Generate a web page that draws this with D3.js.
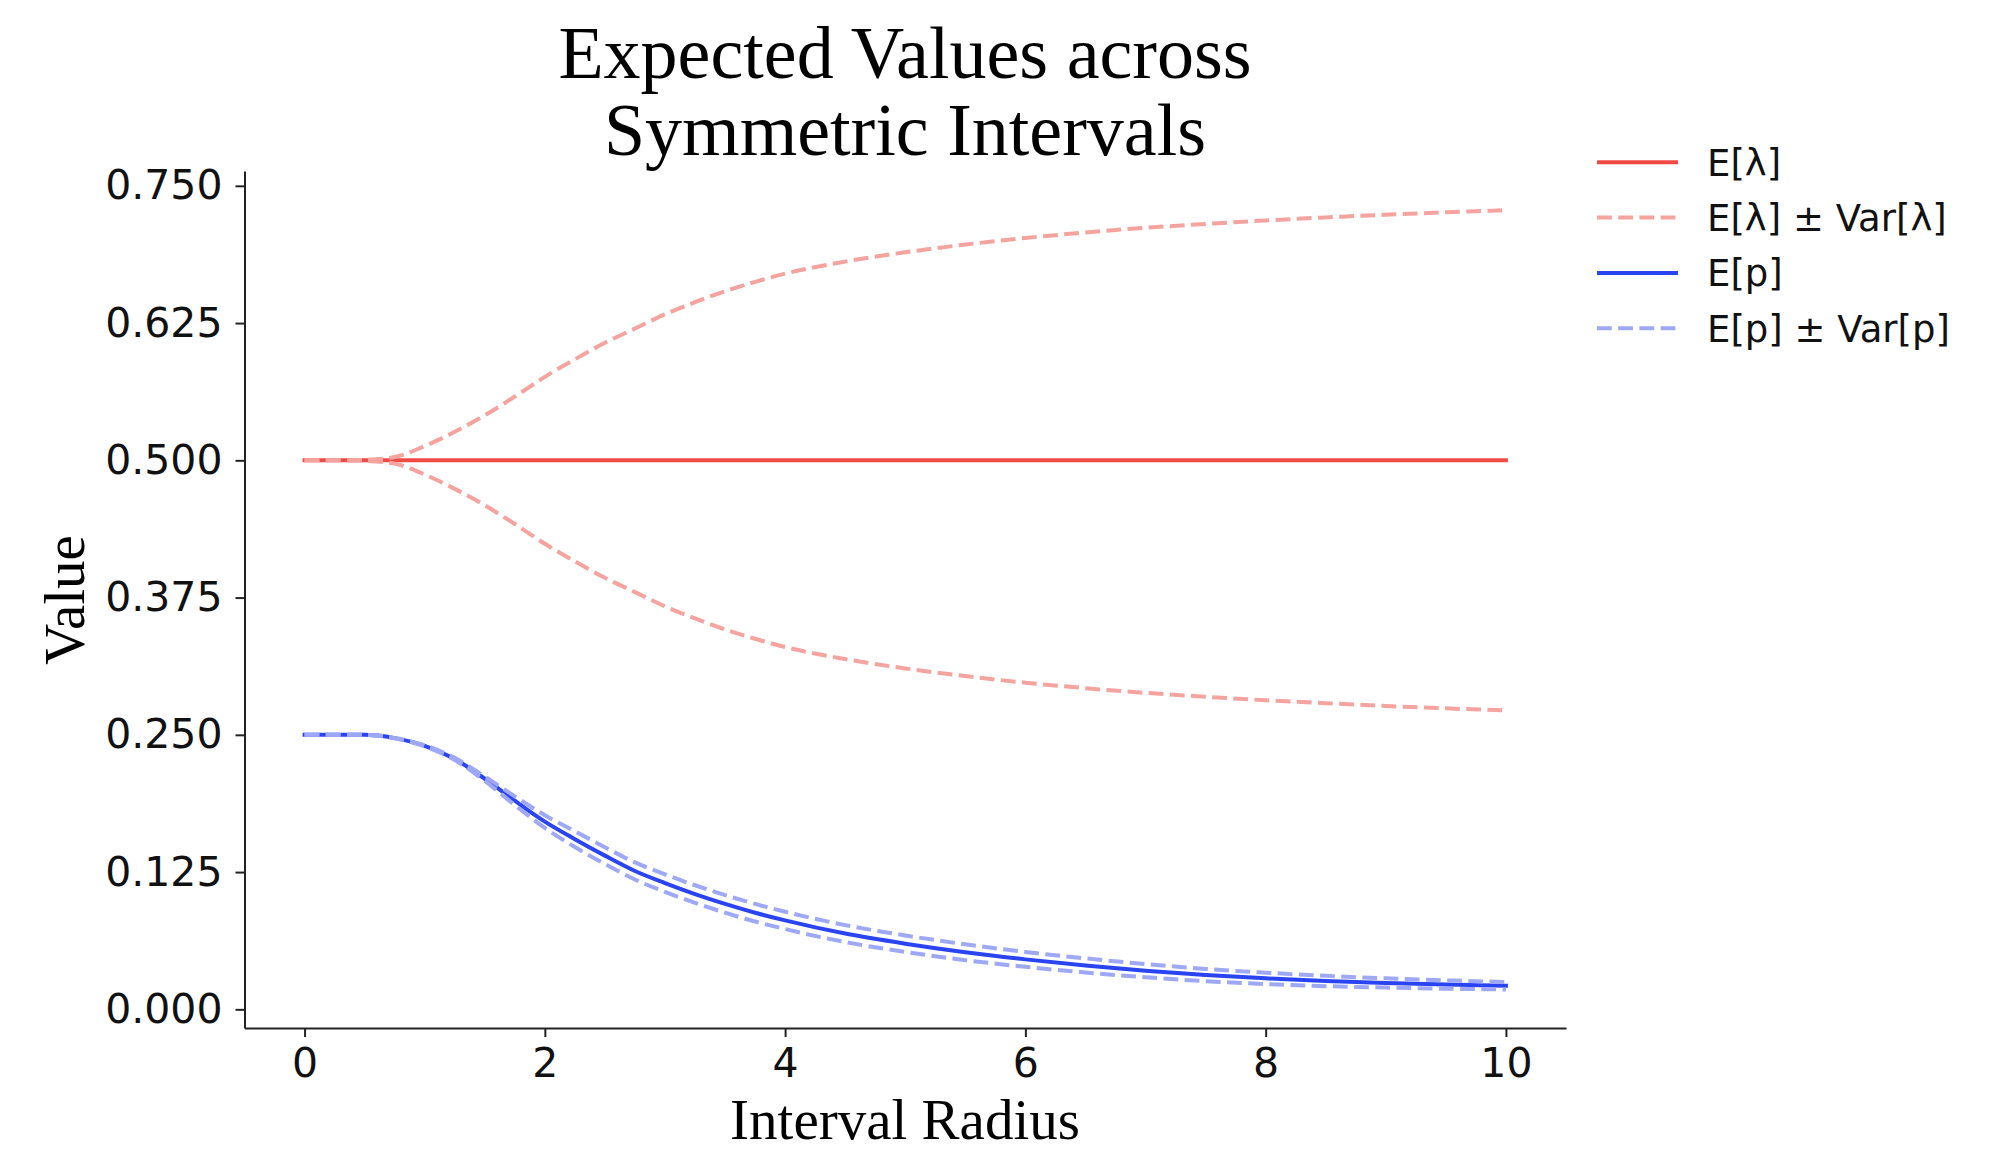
<!DOCTYPE html>
<html>
<head>
<meta charset="utf-8">
<script src="https://cdnjs.cloudflare.com/ajax/libs/d3/7.8.5/d3.min.js"></script>
<style>
  body { margin: 0; background: #fff; }
</style>
</head>
<body>
<svg id="chart" width="2000" height="1174"></svg>
<script>
//Values
var radius = [0, 0.25, 0.5, 0.75, 1, 1.25, 1.5, 1.75, 2, 2.25, 2.5, 2.75, 3, 3.25, 3.5, 3.75, 4, 4.5, 5, 5.5, 6, 6.5, 7, 7.5, 8, 8.5, 9, 9.5, 10];

var lambdaMean = [0.5, 0.5, 0.5, 0.5, 0.5, 0.5, 0.5, 0.5, 0.5, 0.5, 0.5, 0.5, 0.5, 0.5, 0.5, 0.5, 0.5, 0.5, 0.5, 0.5, 0.5, 0.5, 0.5, 0.5, 0.5, 0.5, 0.5, 0.5, 0.5];
var lambdaHi = [0.500, 0.500, 0.5005, 0.503, 0.513, 0.526, 0.541, 0.558, 0.576, 0.592, 0.607, 0.620, 0.633, 0.644, 0.654, 0.6625, 0.670, 0.681, 0.6895, 0.6965, 0.7025, 0.7075, 0.7118, 0.7153, 0.7185, 0.7212, 0.7237, 0.7259, 0.7278];
var lambdaLo = [0.500, 0.500, 0.4995, 0.497, 0.487, 0.474, 0.459, 0.442, 0.424, 0.408, 0.393, 0.380, 0.367, 0.356, 0.346, 0.3375, 0.330, 0.319, 0.3105, 0.3035, 0.2975, 0.2925, 0.2882, 0.2847, 0.2815, 0.2788, 0.2763, 0.2741, 0.2722];

var pMean = [0.250, 0.250, 0.250, 0.247, 0.240, 0.228, 0.210, 0.190, 0.171, 0.155, 0.140, 0.126, 0.115, 0.105, 0.096, 0.088, 0.081, 0.069, 0.0598, 0.0520, 0.0455, 0.0400, 0.0352, 0.0312, 0.0282, 0.0258, 0.0240, 0.0226, 0.0215];
var pHi = [0.250, 0.250, 0.250, 0.2472, 0.2405, 0.229, 0.212, 0.194, 0.1768, 0.1622, 0.1476, 0.1338, 0.123, 0.113, 0.104, 0.096, 0.0889, 0.0767, 0.0673, 0.0592, 0.0523, 0.0464, 0.0412, 0.0368, 0.0334, 0.0305, 0.0282, 0.0264, 0.0249];
var pLo = [0.250, 0.250, 0.250, 0.2468, 0.2395, 0.227, 0.208, 0.186, 0.1652, 0.1478, 0.1324, 0.1182, 0.107, 0.097, 0.088, 0.080, 0.0731, 0.0613, 0.0523, 0.0448, 0.0387, 0.0336, 0.0292, 0.0256, 0.0230, 0.0211, 0.0198, 0.0188, 0.0181];

var xTicks = [0, 2, 4, 6, 8, 10];
var yTicks = [0, 0.125, 0.25, 0.375, 0.5, 0.625, 0.75];
var legendLabels = ["E[\u03bb]", "E[\u03bb] \u00b1 Var[\u03bb]", "E[p]", "E[p] \u00b1 Var[p]"];

var red = "#f04a45", redLight = "#f5a39f", blue = "#2b44f2", blueLight = "#9ea8f7";
var serif = "'Liberation Serif', 'Times New Roman', serif";
var sans = "'DejaVu Sans', sans-serif";

var svg = d3.select("#chart");

// Plot area
var x = d3.scaleLinear().domain([-0.5, 10.5]).range([244.5, 1566]);
var y = d3.scaleLinear().domain([-0.017, 0.7635]).range([1028, 171]);

var line = d3.line()
    .x(function (d) { return x(d[0]); })
    .y(function (d) { return y(d[1]); })
    .curve(d3.curveMonotoneX);

function pairs(vals) {
    return radius.map(function (r, i) { return [r, vals[i]]; });
}

var series = [
    {vals: lambdaMean, color: red, dash: null},
    {vals: lambdaHi, color: redLight, dash: "14.8,6.4"},
    {vals: lambdaLo, color: redLight, dash: "14.8,6.4"},
    {vals: pMean, color: blue, dash: null},
    {vals: pHi, color: blueLight, dash: "14.8,6.4"},
    {vals: pLo, color: blueLight, dash: "14.8,6.4"}
];

svg.append("g").selectAll("path")
    .data(series)
    .enter().append("path")
    .attr("d", function (d) { return line(pairs(d.vals)); })
    .attr("fill", "none")
    .attr("stroke", function (d) { return d.color; })
    .attr("stroke-width", 4)
    .attr("stroke-linecap", function (d) { return d.dash ? "butt" : "square"; })
    .attr("stroke-dasharray", function (d) { return d.dash; });

// Axes, only left and bottom spines
var xAxis = svg.append("g")
    .attr("transform", "translate(0,1028)")
    .call(d3.axisBottom(x).tickValues(xTicks).tickSize(9).tickPadding(11).tickSizeOuter(0).tickFormat(d3.format("d")));

var yAxis = svg.append("g")
    .attr("transform", "translate(244.5,0)")
    .call(d3.axisLeft(y).tickValues(yTicks).tickSize(9).tickPadding(13).tickSizeOuter(0).tickFormat(d3.format(".3f")));

[xAxis, yAxis].forEach(function (ax) {
    ax.select(".domain").attr("stroke", "#222").attr("stroke-width", 2);
    ax.selectAll(".tick line").attr("stroke", "#222").attr("stroke-width", 2);
    ax.selectAll(".tick text")
        .style("font-family", sans)
        .style("font-size", "41px")
        .attr("fill", "#111");
});

// Title and axis labels
var title = svg.append("text")
    .attr("text-anchor", "middle")
    .style("font-family", serif)
    .style("font-size", "74px")
    .attr("fill", "#000");
title.append("tspan").attr("x", 905).attr("y", 78).text("Expected Values across");
title.append("tspan").attr("x", 905).attr("y", 155).text("Symmetric Intervals");

svg.append("text")
    .attr("x", 905)
    .attr("y", 1139)
    .attr("text-anchor", "middle")
    .style("font-family", serif)
    .style("font-size", "57px")
    .attr("fill", "#000")
    .text("Interval Radius");

svg.append("text")
    .attr("transform", "translate(84,600) rotate(-90)")
    .attr("text-anchor", "middle")
    .style("font-family", serif)
    .style("font-size", "57px")
    .attr("fill", "#000")
    .text("Value");

// Legend
var legendStyle = [
    {color: red, dash: null},
    {color: redLight, dash: "14.8,6.4"},
    {color: blue, dash: null},
    {color: blueLight, dash: "14.8,6.4"}
];

var legend = svg.append("g").selectAll("g")
    .data(legendLabels)
    .enter().append("g")
    .attr("transform", function (d, i) { return "translate(1597," + (162.3 + i * 55.3) + ")"; });

legend.append("line")
    .attr("x1", 0).attr("x2", 81)
    .attr("y1", 0).attr("y2", 0)
    .attr("stroke", function (d, i) { return legendStyle[i].color; })
    .attr("stroke-width", 4)
    .attr("stroke-dasharray", function (d, i) { return legendStyle[i].dash; });

legend.append("text")
    .attr("x", 110)
    .attr("y", 0)
    .attr("dy", "0.36em")
    .style("font-family", sans)
    .style("font-size", "37px")
    .attr("fill", "#111")
    .text(function (d) { return d; });
</script>
</body>
</html>
